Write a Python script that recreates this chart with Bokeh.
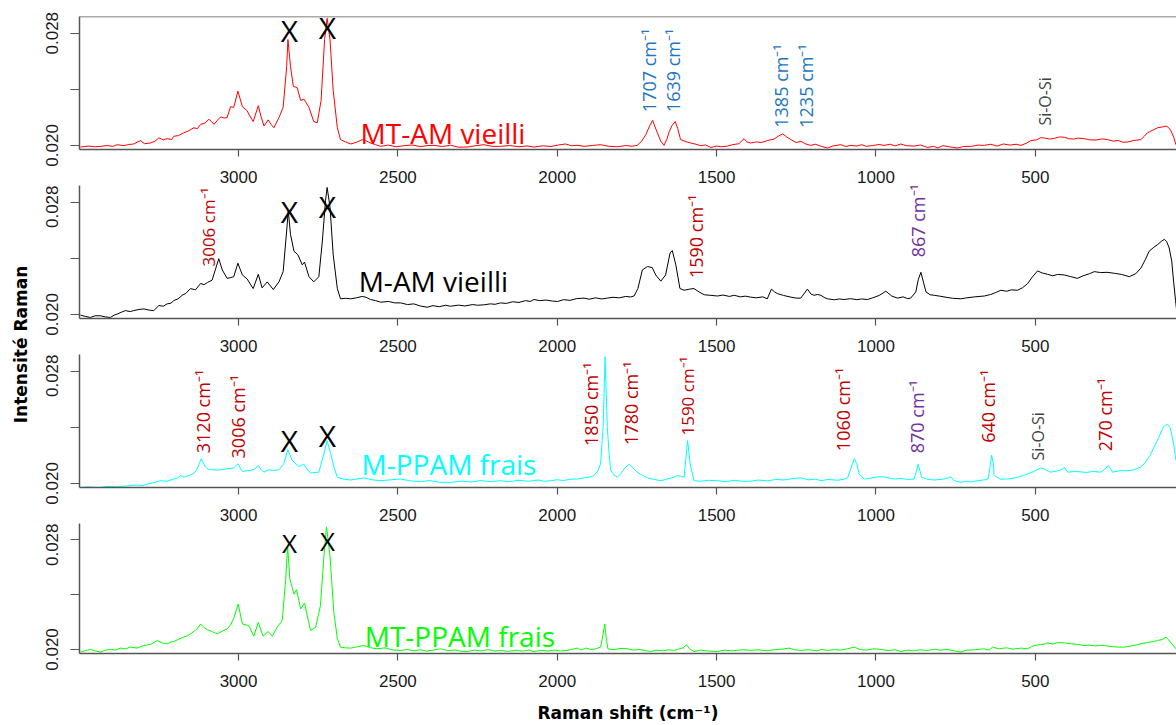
import math
from bokeh.plotting import figure
from bokeh.layouts import column, row
from bokeh.models import Range1d, FixedTicker, Span, ColumnDataSource, Label
from bokeh.core.properties import value
from bokeh.embed import file_html
from bokeh.resources import INLINE

# ---------------- data: (Raman shift, intensity) ----------------
mt_am = [
    (3496, .01988), (3470, .01995), (3450, .01990), (3433, .01993), (3410, .01999), (3395, .01992),
    (3381, .02005), (3360, .01998), (3345, .02006), (3329, .0201), (3308, .02034), (3295, .02012),
    (3276, .02017), (3262, .02030), (3250, .02053), (3236, .02040), (3224, .02048), (3210, .02042),
    (3203, .02065), (3188, .02070), (3172, .0209), (3158, .02102), (3140, .02126), (3130, .02118),
    (3119, .0215), (3105, .02160), (3093, .02186), (3085, .02170), (3077, .0215), (3066, .02180),
    (3056, .02203), (3045, .02195), (3036, .02198), (3025, .02276), (3015, .02271), (3002, .02387),
    (2988, .02276), (2973, .02247), (2968, .02223), (2954, .0217), (2938, .02283), (2930, .0221),
    (2920, .02138), (2907, .02182), (2898, .02150), (2889, .02126), (2873, .02199), (2860, .02271),
    (2849, .02562), (2845, .02755), (2837, .02562), (2828, .02421), (2816, .02412), (2805, .0232),
    (2795, .0233), (2779, .02271), (2764, .0217), (2753, .02162), (2741, .0232), (2730, .02755),
    (2722, .02906), (2713, .02755), (2703, .02392), (2690, .02126), (2680, .02041), (2665, .02025),
    (2648, .0201), (2630, .02022), (2612, .02041), (2598, .02030), (2586, .02017), (2570, .02005),
    (2554, .01993), (2530, .02002), (2505, .01990), (2480, .01998), (2455, .02003), (2430, .01991),
    (2405, .01999), (2387, .020), (2360, .01992), (2335, .02001), (2310, .01987), (2282, .01988),
    (2255, .01998), (2230, .02005), (2205, .01993), (2178, .01993), (2150, .01999), (2120, .0199),
    (2095, .01996), (2073, .01988), (2045, .01997), (2020, .01992), (1995, .02003), (1974, .0201),
    (1955, .01997), (1935, .02001), (1916, .01993), (1890, .01999), (1864, .02005), (1840, .01994),
    (1811, .0199), (1785, .01999), (1765, .01994), (1749, .020), (1735, .0203), (1722, .02077),
    (1710, .0214), (1701, .02179), (1686, .0209), (1675, .0203), (1665, .020), (1655, .0205),
    (1649, .02097), (1640, .0214), (1630, .0217), (1622, .0212), (1613, .02041), (1600, .02030),
    (1590, .02022), (1581, .02017), (1565, .02008), (1550, .01998), (1535, .02003), (1518, .01985),
    (1500, .01995), (1485, .01990), (1466, .01995), (1450, .02005), (1430, .02012), (1414, .02048),
    (1405, .02025), (1393, .02017), (1375, .02025), (1360, .02020), (1341, .02034), (1320, .02045),
    (1305, .02068), (1293, .02082), (1280, .02060), (1267, .02041), (1250, .02020), (1236, .02029),
    (1220, .02010), (1205, .020), (1190, .02008), (1170, .01992), (1152, .01981), (1135, .01996),
    (1110, .02005), (1095, .01992), (1079, .020), (1060, .01995), (1045, .02005), (1030, .01993),
    (1010, .01999), (990, .02006), (974, .020), (955, .02008), (940, .01996), (922, .0201),
    (905, .01998), (880, .01995), (860, .02003), (838, .01985), (820, .01993), (805, .01982),
    (790, .01998), (770, .01990), (744, .01981), (725, .01992), (700, .01993), (680, .02002),
    (660, .020), (640, .02008), (620, .01995), (600, .0201), (580, .02002), (560, .02008),
    (545, .020), (528, .02015), (514, .02034), (495, .02040), (483, .02055), (472, .02053),
    (455, .02045), (440, .02050), (425, .02060), (409, .02058), (395, .02048), (380, .02045),
    (365, .02052), (347, .02048), (330, .02040), (310, .02038), (290, .02046), (273, .02041),
    (255, .02030), (240, .02035), (225, .02022), (211, .02024), (190, .02035), (169, .02041),
    (158, .02065), (148, .0209), (130, .02110), (116, .02126), (100, .02132), (90, .02138),
    (82, .02128), (74, .02102), (66, .0206), (59, .02005),
]

m_am = [
    (3496, .01995), (3480, .01985), (3465, .01978), (3450, .01990), (3433, .0199), (3418, .01982),
    (3402, .01978), (3390, .01995), (3381, .02002), (3368, .02015), (3355, .02027), (3340, .02020),
    (3329, .02027), (3312, .02035), (3297, .02039), (3280, .02030), (3266, .02027), (3250, .02063),
    (3236, .02058), (3224, .02075), (3212, .02080), (3203, .02099), (3190, .02110), (3177, .02136),
    (3165, .02150), (3151, .02184), (3135, .02175), (3119, .0222), (3108, .02212), (3098, .02227),
    (3083, .02244), (3072, .02324), (3062, .02397), (3051, .02317), (3036, .02257), (3025, .02262),
    (3015, .02269), (3002, .02365), (2988, .02281), (2973, .02252), (2954, .02184), (2938, .02286),
    (2926, .02189), (2910, .02232), (2891, .02177), (2873, .02232), (2860, .02305), (2849, .02595),
    (2844, .02741), (2837, .02571), (2826, .0245), (2814, .02426), (2800, .02353), (2793, .02373),
    (2779, .02269), (2764, .02232), (2748, .02269), (2737, .02523), (2727, .02813), (2722, .02905),
    (2713, .02765), (2703, .02426), (2690, .02184), (2680, .02111), (2665, .02115), (2648, .02111),
    (2630, .02118), (2612, .02128), (2600, .02122), (2586, .02106), (2570, .02098), (2554, .02087),
    (2530, .02092), (2510, .02082), (2491, .02082), (2470, .02070), (2450, .02075), (2430, .02060),
    (2408, .02051), (2390, .02062), (2370, .02055), (2350, .02065), (2335, .02058), (2310, .02066),
    (2290, .02060), (2265, .02070), (2250, .02065), (2230, .02068), (2210, .02075), (2195, .02072),
    (2178, .02082), (2160, .02078), (2140, .02090), (2120, .02085), (2100, .02098), (2085, .02092),
    (2073, .02106), (2055, .02098), (2035, .02102), (2015, .02095), (1999, .02092), (1980, .02105),
    (1960, .02100), (1940, .02112), (1916, .02116), (1900, .02108), (1880, .02118), (1860, .02110),
    (1843, .02116), (1825, .02122), (1805, .02118), (1785, .02128), (1770, .02124), (1759, .02131),
    (1747, .02184), (1733, .02317), (1717, .02341), (1702, .02334), (1691, .02281), (1675, .02237),
    (1660, .02281), (1646, .02438), (1639, .02455), (1628, .02353), (1615, .02184), (1602, .02172),
    (1585, .02180), (1571, .02184), (1555, .02160), (1539, .0214), (1520, .02136), (1497, .02131),
    (1480, .02138), (1460, .02128), (1445, .02136), (1425, .02125), (1410, .02130), (1393, .02123),
    (1375, .02118), (1355, .02125), (1341, .02111), (1328, .0218), (1318, .02160), (1309, .02148),
    (1290, .02135), (1267, .02123), (1250, .02116), (1236, .02116), (1215, .0218), (1204, .02145),
    (1194, .02136), (1183, .02142), (1173, .02136), (1160, .02118), (1152, .02111), (1130, .02104),
    (1115, .02110), (1100, .02106), (1080, .02112), (1060, .02105), (1045, .02110), (1027, .02106),
    (1010, .02118), (990, .02135), (969, .02165), (950, .02130), (932, .02116), (915, .02125),
    (900, .02112), (891, .02116), (875, .0216), (867, .0225), (859, .023), (851, .0223),
    (843, .0216), (830, .02140), (817, .02136), (800, .02130), (780, .02122), (760, .02115),
    (734, .02111), (715, .02118), (690, .02125), (660, .02131), (640, .02142), (625, .02155),
    (608, .02172), (590, .02165), (575, .02175), (556, .02172), (540, .02190), (524, .0222),
    (510, .02265), (493, .0231), (478, .02295), (462, .02286), (445, .02275), (430, .02285),
    (409, .02281), (390, .02270), (368, .02257), (350, .02275), (330, .02290), (315, .02305),
    (295, .02298), (275, .02300), (252, .02293), (230, .02285), (205, .02269), (185, .02290),
    (169, .02329), (155, .02390), (143, .0245), (130, .02475), (116, .02498), (105, .02520),
    (95, .02535), (88, .02520), (80, .02474), (72, .0238), (66, .02232), (60, .02100), (56, .02015),
]

m_ppam = [
    (3496, .01971), (3470, .01975), (3440, .01970), (3410, .01978), (3381, .01976), (3350, .01982),
    (3320, .01988), (3300, .01985), (3287, .01995), (3265, .02005), (3245, .02019), (3225, .02015),
    (3203, .02031), (3190, .02040), (3182, .02056), (3170, .02045), (3156, .02056), (3140, .02070),
    (3130, .02104), (3117, .02177), (3104, .02116), (3095, .02100), (3083, .02097), (3060, .02095),
    (3036, .02104), (3015, .02110), (3002, .0214), (2988, .02085), (2975, .02090), (2962, .02092),
    (2950, .02100), (2938, .02128), (2928, .02095), (2920, .0208), (2905, .02097), (2890, .02092),
    (2873, .02097), (2858, .0214), (2845, .02242), (2832, .02165), (2820, .02140), (2811, .02121),
    (2795, .02136), (2785, .02100), (2774, .02073), (2760, .02078), (2748, .0208), (2732, .02213),
    (2722, .02305), (2711, .02213), (2700, .02110), (2690, .02044), (2670, .02030), (2648, .02024),
    (2625, .02032), (2607, .02039), (2580, .02025), (2554, .02019), (2520, .02026), (2491, .02031),
    (2460, .02018), (2430, .02012), (2400, .02020), (2370, .02008), (2335, .02007), (2300, .02016),
    (2270, .02010), (2240, .02020), (2210, .02012), (2178, .02019), (2150, .02012), (2120, .02022),
    (2090, .02015), (2060, .02024), (2040, .02015), (2021, .02019), (2000, .02026), (1980, .02020),
    (1960, .02030), (1937, .02031), (1915, .02040), (1900, .02045), (1885, .02056), (1872, .02090),
    (1864, .0214), (1856, .02407), (1850, .02903), (1843, .02407), (1837, .02200), (1832, .02092),
    (1822, .02060), (1811, .02044), (1800, .02070), (1790, .02104), (1775, .02136), (1762, .02110),
    (1749, .0208), (1735, .02060), (1717, .02039), (1700, .02030), (1675, .02019), (1660, .02028),
    (1640, .02040), (1623, .02056), (1610, .02050), (1602, .02044), (1596, .02189), (1591, .02305),
    (1583, .0214), (1571, .02019), (1550, .02015), (1525, .02022), (1497, .02019), (1470, .02012),
    (1445, .02022), (1420, .02015), (1393, .02015), (1370, .02024), (1340, .02018), (1315, .02028),
    (1288, .02024), (1260, .02035), (1236, .02039), (1210, .02025), (1190, .02030), (1173, .02019),
    (1150, .02028), (1120, .02022), (1100, .02030), (1089, .02039), (1079, .02104), (1068, .02177),
    (1060, .02140), (1053, .02068), (1037, .02031), (1020, .02035), (1000, .02045), (980, .02048),
    (962, .02040), (943, .02031), (920, .02035), (900, .02028), (880, .02031), (874, .02080),
    (868, .02136), (862, .02090), (857, .02044), (840, .02030), (817, .02024), (790, .02030),
    (772, .02040), (765, .02048), (755, .02020), (734, .02007), (715, .02015), (700, .02010),
    (681, .02019), (660, .02025), (648, .02031), (642, .02120), (637, .02201), (632, .02140),
    (629, .02056), (610, .02030), (587, .02031), (560, .02040), (540, .02055), (524, .02068),
    (505, .02085), (483, .02111), (470, .02100), (451, .0208), (430, .02090), (415, .02100),
    (409, .02116), (399, .0208), (370, .02085), (340, .02078), (320, .02085), (294, .0208),
    (282, .02100), (271, .02128), (262, .02100), (258, .0208), (230, .02092), (210, .02090),
    (190, .02097), (170, .02115), (158, .0214), (140, .02200), (127, .02261), (112, .02330),
    (100, .02394), (92, .02415), (85, .02419), (78, .02400), (74, .0237), (66, .02280), (59, .02165),
]

mt_ppam = [
    (3496, .01981), (3480, .01992), (3465, .020), (3450, .01990), (3433, .01981), (3418, .01995),
    (3402, .020), (3385, .01996), (3370, .0201), (3355, .02005), (3339, .02017), (3318, .02010),
    (3297, .02029), (3275, .02038), (3255, .02065), (3240, .02048), (3224, .02041), (3212, .02055),
    (3203, .02058), (3188, .02075), (3172, .0209), (3160, .02100), (3146, .02121), (3130, .02150),
    (3119, .02186), (3108, .02160), (3098, .02145), (3082, .02130), (3067, .02114), (3050, .02135),
    (3036, .0215), (3025, .02180), (3015, .02227), (3001, .02332), (2988, .02186), (2968, .02174),
    (2952, .02097), (2938, .02198), (2923, .02097), (2907, .02131), (2894, .02097), (2879, .02162),
    (2863, .02211), (2852, .02513), (2846, .02755), (2839, .02513), (2826, .02404), (2818, .02436),
    (2805, .02295), (2793, .02339), (2774, .02138), (2758, .02162), (2743, .0232), (2732, .02682),
    (2724, .02895), (2713, .02682), (2701, .02271), (2690, .02080), (2680, .02017), (2665, .02012),
    (2648, .0201), (2630, .02018), (2607, .02029), (2585, .02012), (2565, .02005), (2540, .02012),
    (2515, .01996), (2491, .01993), (2470, .02000), (2450, .01990), (2430, .01998), (2410, .01988),
    (2390, .01995), (2366, .02005), (2345, .01992), (2320, .01996), (2300, .01986), (2282, .01985),
    (2260, .01995), (2240, .01990), (2215, .01999), (2195, .01988), (2178, .01993), (2155, .01986),
    (2130, .01994), (2110, .01988), (2090, .01995), (2073, .01985), (2050, .01994), (2030, .01988),
    (2010, .01996), (1990, .01989), (1968, .01993), (1950, .02003), (1937, .0201), (1925, .01996),
    (1911, .0201), (1895, .02000), (1880, .02004), (1864, .02017), (1857, .02100), (1851, .02186),
    (1846, .02080), (1841, .02005), (1825, .01998), (1800, .02008), (1780, .02005), (1760, .01995),
    (1740, .02000), (1720, .01990), (1707, .01985), (1690, .01995), (1670, .01990), (1650, .01998),
    (1635, .01992), (1623, .020), (1605, .02012), (1594, .02034), (1585, .02005), (1571, .01985),
    (1550, .01995), (1525, .01988), (1497, .01985), (1475, .01995), (1450, .01990), (1420, .01998),
    (1393, .01993), (1370, .01998), (1345, .01990), (1320, .01998), (1295, .02002), (1273, .0201),
    (1255, .01998), (1236, .01993), (1210, .01998), (1185, .01990), (1170, .02000), (1152, .01993),
    (1130, .01999), (1110, .01995), (1090, .02005), (1068, .02017), (1050, .02000), (1030, .01995),
    (1006, .02005), (985, .02000), (960, .01992), (940, .01998), (922, .01985), (900, .01995),
    (880, .01990), (860, .01998), (840, .01992), (815, .02002), (800, .01995), (776, .020),
    (755, .01990), (734, .01981), (715, .01995), (690, .01998), (660, .02005), (645, .01995),
    (634, .02017), (615, .02005), (590, .02012), (570, .02002), (545, .02010), (524, .02005),
    (512, .02020), (503, .02029), (485, .02035), (470, .02040), (462, .02048), (445, .02040),
    (430, .02050), (409, .02048), (390, .02042), (370, .02038), (347, .02029), (330, .02032),
    (310, .02025), (295, .02030), (284, .02029), (265, .02022), (245, .02018), (221, .02017),
    (200, .02025), (185, .02032), (169, .02041), (150, .02050), (130, .02058), (116, .02065),
    (100, .02075), (90, .0209), (82, .02070), (74, .02048), (66, .02025), (59, .02005),
]

series_names = ["MT-AM vieilli", "M-AM vieilli", "M-PPAM frais", "MT-PPAM frais"]
x_ticks = [3000, 2500, 2000, 1500, 1000, 500]
y_ticks = [0.020, 0.024, 0.028]
y_tick_labels = ["0.020", "", "0.028"]

# ---------------- annotations ----------------
BLUE, RED, PURPLE, GREY = "#2176C0", "#C00000", "#7030A0", "#404040"
SUP = " cm\u207b\u00b9"
ann = [
    dict(text=["1707" + SUP, "1639" + SUP, "1385" + SUP, "1235" + SUP],
         x=[1713, 1638, 1299, 1220], y=[0.02237, 0.02237, 0.02126, 0.02126], color=[BLUE] * 4,
         size=["18px"] * 4),
    dict(text=["3006" + SUP, "1590" + SUP, "867" + SUP],
         x=[3094, 1566, 868], y=[0.02341, 0.02259, 0.02407], color=[RED, RED, PURPLE],
         size=["17px", "18px", "18px"]),
    dict(text=["3120" + SUP, "3006" + SUP, "1850" + SUP, "1780" + SUP, "1590" + SUP, "1060" + SUP,
               "870" + SUP, "640" + SUP, "270" + SUP],
         x=[3113, 3003, 1895, 1770, 1591, 1104, 871, 648, 280],
         y=[0.02215, 0.02178, 0.02267, 0.02274, 0.02341, 0.0223, 0.02215, 0.02289, 0.0223],
         color=[RED, RED, RED, RED, RED, RED, PURPLE, RED, RED],
         size=["18px", "18px", "18px", "18px", "17px", "18px", "18px", "18px", "18px"]),
    dict(text=[], x=[], y=[], color=[], size=[]),
]
siosi = [dict(x=[469], y=[0.02141]), dict(x=[], y=[]), dict(x=[491], y=[0.02163]), dict(x=[], y=[])]
x_marks = [dict(x=[2840, 2721], y=[0.02822, 0.02844], size="30px"),
           dict(x=[2840, 2721], y=[0.02733, 0.0277], size="30px"),
           dict(x=[2840, 2721], y=[0.02304, 0.02341], size="30px"),
           dict(x=[2840, 2721], y=[0.02780, 0.02790], size="26px")]
name_pos = [(2617, 0.02089), (2623, 0.02237), (2614, 0.02141), (2604, 0.02096)]
line_colors = ["#FF0000", "#000000", "#00FFFF", "#00FF00"]

series = [mt_am, m_am, m_ppam, mt_ppam]

FRAME = 129
AXP = 40
heights = [16 + FRAME + AXP, FRAME + AXP, FRAME + AXP, FRAME + 73]
tops = [16, 0, 0, 0]
AX = "#555555"
TICKFONT = "Liberation Sans"
Y0, Y1 = 0.019706, 0.029191

panels = []
for i in range(4):
    p = figure(width=1138, height=heights[i], x_range=Range1d(3499, 57), y_range=Range1d(Y0, Y1),
               output_backend="svg", toolbar_location=None,
               min_border_left=41, min_border_right=0, min_border_top=tops[i], min_border_bottom=0)
    p.background_fill_color = "white"
    p.outline_line_color = None
    p.xgrid.visible = False
    p.ygrid.visible = False

    wn = [a for a, _ in series[i]]
    it = [b for _, b in series[i]]
    p.line(wn, it, line_color=line_colors[i], line_width=1)

    xa = p.xaxis[0]
    xa.ticker = FixedTicker(ticks=x_ticks)
    xa.minor_tick_line_color = None
    xa.major_tick_in = 0
    xa.major_tick_out = 7
    xa.axis_line_color = AX
    xa.axis_line_width = 1.5
    xa.major_tick_line_color = AX
    xa.major_tick_line_width = 1.2
    xa.major_label_standoff = 14
    xa.major_label_text_font = TICKFONT
    xa.major_label_text_font_size = "17px"
    xa.major_label_text_color = "#1a1a1a"

    ya = p.yaxis[0]
    ya.ticker = FixedTicker(ticks=y_ticks)
    ya.major_label_overrides = {t: l for t, l in zip(y_ticks, y_tick_labels)}
    ya.major_label_orientation = "vertical"
    ya.minor_tick_line_color = None
    ya.major_tick_in = 0
    ya.major_tick_out = 9
    ya.axis_line_color = AX
    ya.axis_line_width = 1.5
    ya.major_tick_line_color = AX
    ya.major_tick_line_width = 1.2
    ya.major_label_standoff = 12
    ya.major_label_text_font = TICKFONT
    ya.major_label_text_font_size = "17px"
    ya.major_label_text_color = "#1a1a1a"

    a = ann[i]
    if a["text"]:
        src = ColumnDataSource(data=a)
        p.text(x="x", y="y", text="text", text_color="color", text_font_size="size", source=src,
               angle=math.pi / 2, text_align="left", text_baseline="middle",
               text_font=value("Open Sans"))
    s = siosi[i]
    if s["x"]:
        p.text(x=s["x"], y=s["y"], text=["Si-O-Si"] * len(s["x"]), text_color=GREY, angle=math.pi / 2,
               text_align="left", text_baseline="middle",
               text_font=value("Open Sans"), text_font_size=value("16px"))
    m = x_marks[i]
    p.text(x=m["x"], y=m["y"], text=["X"] * len(m["x"]), text_color="black",
           text_align="center", text_baseline="middle",
           text_font=value("Open Sans"), text_font_size=value(m["size"]))
    nx, ny = name_pos[i]
    p.text(x=[nx], y=[ny], text=[series_names[i]], text_color=line_colors[i],
           text_align="left", text_baseline="alphabetic",
           text_font=value("Open Sans"), text_font_size=value("28px"))

    if i == 0:
        p.add_layout(Span(location=Y1, dimension="width", line_color=AX, line_width=1.5))
    if i == 3:
        xa.axis_label = "Raman shift (cm\u207b\u00b9)"
        xa.axis_label_text_font = "DejaVu Sans"
        xa.axis_label_text_font_style = "bold"
        xa.axis_label_text_font_size = "17px"
        xa.axis_label_text_color = "black"
        xa.axis_label_standoff = 13
    panels.append(p)

total_h = sum(heights)
lab = figure(width=38, height=total_h, x_range=Range1d(0, 38), y_range=Range1d(0, total_h),
             output_backend="svg", toolbar_location=None, min_border=0)
lab.xaxis.visible = False
lab.yaxis.visible = False
lab.xgrid.visible = False
lab.ygrid.visible = False
lab.outline_line_color = None
lab.add_layout(Label(x=20, y=total_h - 344, text="Intensit\u00e9 Raman", angle=math.pi / 2,
                     text_align="center", text_baseline="middle", text_font="DejaVu Sans",
                     text_font_style="bold", text_font_size="17px", text_color="black"))

layout = row(lab, column(*panels))
open("out.html", "w").write(file_html(layout, INLINE))
